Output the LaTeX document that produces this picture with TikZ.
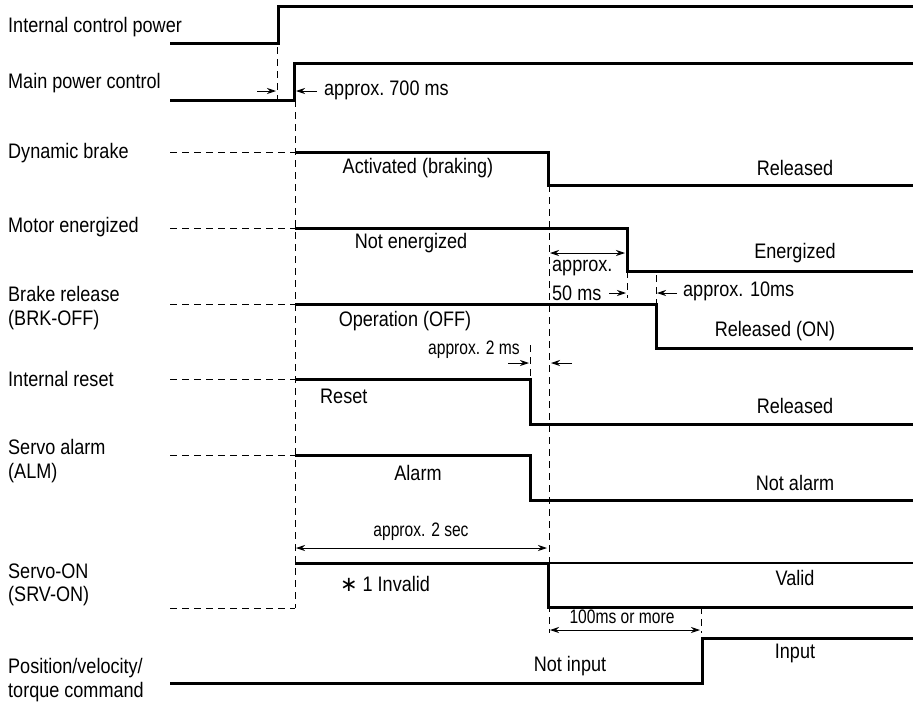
\documentclass[tikz,border=0pt]{standalone}
\usepackage{fontspec}
\setmainfont{Liberation Sans}[FakeStretch=0.86]
\newfontfamily\notefont{Liberation Sans}[FakeStretch=0.80]
\newfontfamily\symfont{DejaVu Sans}
\usetikzlibrary{arrows.meta}
\tikzset{
  sig/.style={line width=3pt, line join=miter},
  thinsig/.style={line width=1.3pt},
  guide/.style={dash pattern=on 7pt off 5pt, line width=0.9pt},
  dimarr/.style={{Stealth[length=9pt,width=6pt]}-{Stealth[length=9pt,width=6pt]}, line width=0.9pt},
  tickarr/.style={-{Stealth[length=9pt,width=6pt]}, line width=0.9pt},
  rowlabel/.style={anchor=west, align=left, inner sep=0pt, font=\fontsize{21}{23.5}\selectfont},
  state/.style={inner sep=0pt, font=\fontsize{21}{23}\selectfont},
  note/.style={inner sep=0pt, font=\notefont\fontsize{19.5}{21}\selectfont},
}
\begin{document}
\begin{tikzpicture}[x=1pt,y=-1pt]
  \useasboundingbox (0,0) rectangle (913,715);

  % row labels
  \node[rowlabel] (lblIcp) at (8,27) {Internal control power};
  \node[rowlabel] (lblMpc) at (8,83) {Main power control};
  \node[rowlabel] (lblDb)  at (8,153) {Dynamic brake};
  \node[rowlabel] (lblMe)  at (8,227) {Motor energized};
  \node[rowlabel] (lblBrk) at (8,308) {Brake release\\(BRK-OFF)};
  \node[rowlabel] (lblRst) at (8,379) {Internal reset};
  \node[rowlabel] (lblAlm) at (8,461) {Servo alarm\\(ALM)};
  \node[rowlabel] (lblSrv) at (8,585) {Servo-ON\\(SRV-ON)};
  \node[rowlabel] (lblCmd) at (8,680) {Position/velocity/\\torque command};

  % guide lines
  \foreach \y in {152,228,304,379,455,608} \draw[guide] (170,\y)--(295,\y);
  \draw[guide] (277,47)--(277,100);
  \draw[guide] (295,100)--(295,608);
  \draw[guide] (549,185)--(549,633);
  \draw[guide] (530,345)--(530,379);
  \draw[guide] (627,271)--(627,298);
  \draw[guide] (656,275)--(656,304);
  \draw[guide] (701,607)--(701,633);

  % signals
  \draw[sig] (170,43)--(278,43)--(278,6)--(913,6);
  \draw[sig] (170,100)--(294,100)--(294,63)--(913,63);
  \draw[sig] (295,152)--(548,152)--(548,185)--(913,185);
  \draw[sig] (295,228)--(627,228)--(627,271)--(913,271);
  \draw[sig] (295,304)--(656,304)--(656,348)--(913,348);
  \draw[sig] (295,379)--(530,379)--(530,424)--(913,424);
  \draw[sig] (295,455)--(530,455)--(530,500)--(913,500);
  \draw[thinsig] (548,563)--(913,563);
  \draw[sig] (295,563)--(548,563)--(548,607)--(913,607);
  \draw[sig] (170,683)--(702,683)--(702,638)--(913,638);

  % states
  \node[state] (dbOn)   at (418,168) {Activated (braking)};
  \node[state] (dbOff)  at (795,168) {Released};
  \node[state] (meOff)  at (411,243) {Not energized};
  \node[state] (meOn)   at (795,253) {Energized};
  \node[state] (brkOff) at (405,321) {Operation (OFF)};
  \node[state] (brkOn)  at (775,331) {Released (ON)};
  \node[state,anchor=west] (rstOn) at (320,396) {Reset};
  \node[state] (rstOff) at (795,406) {Released};
  \node[state] (almOn)  at (418,473) {Alarm};
  \node[state] (almOff) at (795,483) {Not alarm};
  \node[state] (srvOff) at (385,584) {{\symfont ∗} 1 Invalid};
  \node[state] (srvOn)  at (795,578) {Valid};
  \node[state] (cmdOff) at (570,666) {Not input};
  \node[state] (cmdOn)  at (795,653) {Input};

  % timings
  \draw[tickarr] (257,91)--(276,91);
  \draw[tickarr] (317,91)--(296,91);
  \node[state,anchor=west] (t700) at (324,90) {approx.\ 700 ms};
  \draw[dimarr] (550,253)--(625,253);
  \node[state,anchor=west] (t50a) at (552,268) {approx.};
  \node[state,anchor=west] (t50b) at (552,293) {50 ms};
  \draw[tickarr] (609,293)--(626,293);
  \draw[tickarr] (677,293)--(657,293);
  \node[state,anchor=west] (t10) at (683,291) {approx. 10ms};
  \draw[tickarr] (508,363)--(529,363);
  \draw[tickarr] (572,363)--(551,363);
  \node[note,anchor=east] (t2ms) at (520,350) {approx. 2 ms};
  \draw[dimarr] (296,548)--(547,548);
  \node[note] (t2s) at (421,532) {approx. 2 sec};
  \draw[dimarr] (550,630)--(700,630);
  \node[note] (t100) at (622,617) {100ms or more};
\end{tikzpicture}
\end{document}
